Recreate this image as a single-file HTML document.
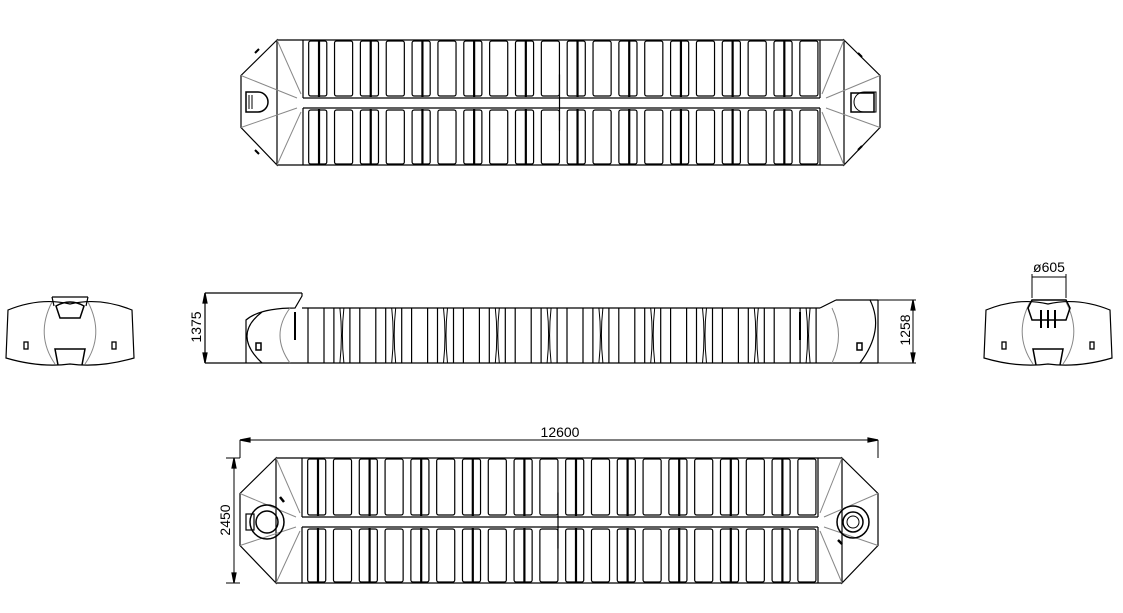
<!DOCTYPE html>
<html><head><meta charset="utf-8"><style>
html,body{margin:0;padding:0;background:#fff;width:1123px;height:613px;overflow:hidden}
svg{display:block}
text{font-family:"Liberation Sans",sans-serif;fill:#000}
</style></head><body>
<svg id="s" width="1123" height="613" viewBox="0 0 1123 613" xmlns="http://www.w3.org/2000/svg" fill="none" stroke="#000" stroke-width="1.2">
<g id="g"></g>
<!-- dimension texts -->
<text x="560" y="437" font-size="14" stroke="none" text-anchor="middle">12600</text>
<text x="0" y="0" font-size="14" stroke="none" text-anchor="middle" transform="translate(230,520) rotate(-90)">2450</text>
<text x="0" y="0" font-size="14" stroke="none" text-anchor="middle" transform="translate(201,327) rotate(-90)">1375</text>
<text x="0" y="0" font-size="14" stroke="none" text-anchor="middle" transform="translate(910,330) rotate(-90)">1258</text>
<text x="1049" y="272" font-size="14" stroke="none" text-anchor="middle">ø605</text>
</svg>
<script>
var g=document.getElementById('g'),h='';
function L(a,b,c,d,w,col){h+='<line x1="'+a+'" y1="'+b+'" x2="'+c+'" y2="'+d+'" stroke="'+(col||'#000')+'" stroke-width="'+(w||1.2)+'"/>';}
function R(x,y,w,hh,r,sw){h+='<rect x="'+x+'" y="'+y+'" width="'+w+'" height="'+hh+'" rx="'+(r||0)+'" stroke-width="'+(sw||1.2)+'"/>';}
function plan(y0,y1,cy0,cy1,xl,xr,xs,xe){
 // outline
 var my=(y0+y1)/2;
 h+='<path d="M'+(xl+36)+' '+y0+' L'+xl+' '+(my-27)+' L'+xl+' '+(my+25)+' L'+(xl+36)+' '+y1+' Z"/>';
 h+='<path d="M'+(xr-36)+' '+y0+' L'+xr+' '+(my-27)+' L'+xr+' '+(my+25)+' L'+(xr-36)+' '+y1+' Z"/>';
 L(xl+36,y0,xr-36,y0);L(xl+36,y1,xr-36,y1);
 L(xs,cy0,xe,cy0);L(xs,cy1,xe,cy1);
 // gray facet lines
 var gc='#888';
 L(xl,my-27,xs-6,cy0,1,gc);L(xl,my+25,xs-6,cy1,1,gc);L(xl+36,y0,xs-2,cy0-4,1,gc);L(xl+36,y1,xs-2,cy1+4,1,gc);
 L(xr,my-27,xe+6,cy0,1,gc);L(xr,my+25,xe+6,cy1,1,gc);L(xr-36,y0,xe+2,cy0-4,1,gc);L(xr-36,y1,xe+2,cy1+4,1,gc);
 L(xs,y0,xs,cy0);L(xs,cy1,xs,y1);L(xe,y0,xe,cy0);L(xe,cy1,xe,y1);
 var n=20,p=(xe-xs)/n;
 for(var i=0;i<n;i++){var x=xs+i*p;
  R(x+p*0.22,y0+1,p*0.7,cy0-y0-3,2);R(x+p*0.22,cy1+2,p*0.7,y1-cy1-3,2);
  if(i%2==0){L(x+p*0.62,y0+1,x+p*0.62,cy0-1,2.2);L(x+p*0.62,cy1+1,x+p*0.62,y1-1,2.2);}
 }
 L((xs+xe)/2-2,my-28,(xs+xe)/2-2,my+28,1.2);
}
plan(40,165,98,108,241,880,303,820);
plan(458,583,517,527,240,878,302,818);
// top view end features
h+='<path d="M246 92 h12 a10 10 0 1 1 0 20 h-12 z" stroke-width="1.5"/><path d="M249 95 v14 M252 95 v14" stroke-width="1"/>';
h+='<path d="M876 92 h-12 a10 10 0 0 0 0 20 h12 z" stroke-width="1"/><rect x="851" y="93" width="23" height="19" stroke-width="1.5"/>';
L(255,53,259,49,2);L(255,150,259,154,2);L(858,53,862,57,2);L(858,150,862,146,2);
// bottom view circles
h+='<circle cx="267" cy="522" r="17" stroke-width="1.5"/><circle cx="267" cy="522" r="11" stroke-width="1.5"/><rect x="246" y="514" width="8" height="16" stroke-width="1.2"/>';
h+='<circle cx="853" cy="522" r="16" stroke-width="1.5"/><circle cx="853" cy="522" r="10" stroke-width="1.5"/><circle cx="853" cy="522" r="6" stroke-width="1"/>';
L(280,497,284,502,2.5);L(838,540,842,544,2.5);
// side view
var sy0=308,sy1=363;
L(205,293,302,293,1.2);L(205,293,205,363);L(205,363,878,363);
L(302,sy0,820,sy0);
h+='<path d="M246 363 L246 320 Q260 308 295 308 L302 296 L302 293" stroke-width="1.2"/>';
h+='<path d="M290 308 Q270 335 290 363" stroke="#888" stroke-width="1"/><path d="M262 312 Q232 335 262 363" stroke-width="1.2"/>';
h+='<path d="M836 300 L870 300 Q885 330 860 363" stroke-width="1.2"/><path d="M832 308 Q845 335 832 363" stroke="#888" stroke-width="1"/><path d="M870 300 L878 300 M878 300 L878 363"/>';
L(820,sy0,836,300);
for(var i=0;i<20;i++){var x=302+i*25.9;
 L(x+6,sy0,x+6,sy1);L(x+22,sy0,x+22,sy1);
 if(i%2==1){h+='<path d="M'+(x+12)+' '+sy0+' q3 27 0 55 M'+(x+16)+' '+sy0+' q-3 27 0 55" stroke-width="1"/>';}
}
L(295,312,295,340,2);L(800,312,800,340,2);
h+='<rect x="256" y="343" width="5" height="7" stroke-width="1.5"/><rect x="857" y="343" width="5" height="7" stroke-width="1.5"/>';
// end views
function endv(cx){
 h+='<path d="M'+(cx-62)+' 310 Q'+(cx-30)+' 297 '+cx+' 304 Q'+(cx+30)+' 297 '+(cx+62)+' 310 L'+(cx+64)+' 358 Q'+(cx+30)+' 368 '+cx+' 364 Q'+(cx-30)+' 368 '+(cx-64)+' 358 Z" stroke-width="1.2"/>';
 h+='<path d="M'+(cx-18)+' 302 Q'+(cx-35)+' 335 '+(cx-15)+' 364 M'+(cx+18)+' 302 Q'+(cx+35)+' 335 '+(cx+15)+' 364" stroke="#888" stroke-width="1"/>';
 h+='<path d="M'+(cx-12)+' 365 L'+(cx-15)+' 349 L'+(cx+15)+' 349 L'+(cx+12)+' 365" stroke-width="1.5"/>';
 h+='<rect x="'+(cx-46)+'" y="342" width="4" height="7" stroke-width="1.3"/><rect x="'+(cx+42)+'" y="342" width="4" height="7" stroke-width="1.3"/>';
}
endv(70);endv(1048);
h+='<path d="M52 297 L54 306 M88 297 L86 306 M52 297 H88" /><path d="M60 318 L56 306 Q70 298 84 306 L80 318 Z" stroke-width="1.5"/>';
h+='<path d="M1032 300 H1066 L1070 308 L1066 320 H1032 L1028 308 Z" stroke-width="1.5"/>';
L(1041,310,1041,328,2);L(1048,310,1048,328,2);L(1055,310,1055,328,2);
L(1032,274,1032,298,1);L(1066,274,1066,298,1);L(1032,277,1066,277,1);
// dimension lines
L(240,440,878,440,1);L(240,440,240,458,1);L(878,440,878,458,1);
h+='<path d="M240 440 l10 -2 v4 z M878 440 l-10 -2 v4 z" fill="#000"/>';
L(234,458,234,583,1);L(226,458,240,458,1);L(226,583,240,583,1);
h+='<path d="M234 458 l-2 10 h4 z M234 583 l-2 -10 h4 z" fill="#000"/>';
h+='<path d="M205 293 l-2 10 h4 z M205 363 l-2 -10 h4 z" fill="#000"/>';
L(878,300,916,300,1);L(878,363,916,363,1);L(913,300,913,363,1);
h+='<path d="M913 300 l-2 10 h4 z M913 363 l-2 -10 h4 z" fill="#000"/>';
g.innerHTML=h;
</script>
</body></html>
